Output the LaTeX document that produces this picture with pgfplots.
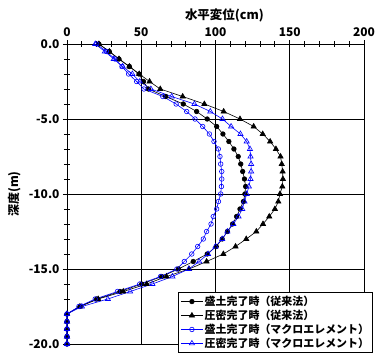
\documentclass[border=0pt]{standalone}
\usepackage{fontspec}
\setmainfont{Noto Sans CJK JP}
\usepackage{pgfplots}
\pgfplotsset{compat=1.18}
\pgfplotstableread{
x y
21.5 0
28.5 -0.5
35 -1.0
42 -1.5
48.5 -2.0
51.5 -2.5
54.8 -3.0
66.5 -3.5
78.3 -4.0
87.3 -4.5
94.4 -5.0
100.8 -5.5
105 -6.0
109 -6.5
112.4 -7.0
115.3 -7.5
117 -8.0
118.3 -8.5
119.5 -9.0
120.3 -9.5
119.8 -10.0
118.8 -10.5
116.5 -11.0
114.2 -11.5
111.5 -12.0
108 -12.5
104.5 -13.0
100.5 -13.5
94.4 -14.0
85 -14.5
75 -15.0
63.8 -15.5
50.3 -16.0
35.7 -16.5
20 -17.0
8.7 -17.5
0 -18.0
0 -18.5
0 -19.0
0 -19.5
0 -20.0
}\seriesA
\pgfplotstableread{
x y
21.5 0
28.5 -0.5
35 -1.0
42 -1.5
48.7 -2.0
55.6 -2.5
62.8 -3.0
77.9 -3.5
92.5 -4.0
105.5 -4.5
116.5 -5.0
125.7 -5.5
131.8 -6.0
136.8 -6.5
140.7 -7.0
143.8 -7.5
144.6 -8.0
145.2 -8.5
145.4 -9.0
145 -9.5
143.4 -10.0
142.3 -10.5
140 -11.0
136.2 -11.5
132 -12.0
127.5 -12.5
120.7 -13.0
113.5 -13.5
105.3 -14.0
94 -14.5
82.2 -15.0
67 -15.5
53.7 -16.0
37.9 -16.5
21 -17.0
8.7 -17.5
0 -18.0
0 -18.5
0 -19.0
0 -19.5
0 -20.0
}\seriesB
\pgfplotstableread{
x y
20 0
26.5 -0.5
32.3 -1.0
37 -1.5
41.5 -2.0
46.9 -2.5
51.8 -3.0
64.5 -3.5
73.5 -4.0
80.6 -4.5
86.2 -5.0
91.4 -5.5
95.9 -6.0
99 -6.5
101.9 -7.0
103 -7.5
103.5 -8.0
104.2 -8.5
104.2 -9.0
104 -9.5
103.5 -10.0
102 -10.5
100.8 -11.0
98.5 -11.5
97 -12.0
94 -12.5
91.8 -13.0
88 -13.5
84 -14.0
79 -14.5
74 -15.0
63 -15.5
49 -16.0
34 -16.5
19 -17.0
8 -17.5
0 -18.0
0 -18.5
0 -19.0
0 -19.5
0 -20.0
}\seriesC
\pgfplotstableread{
x y
19 0
25.5 -0.5
31.5 -1.0
37.5 -1.5
44 -2.0
49 -2.5
56.5 -3.0
70.5 -3.5
85.8 -4.0
96.5 -4.5
104.7 -5.0
110.5 -5.5
116.8 -6.0
121 -6.5
123.2 -7.0
123.6 -7.5
124 -8.0
124 -8.5
123.6 -9.0
122.5 -9.5
121 -10.0
119.5 -10.5
118 -11.0
115.5 -11.5
112 -12.0
108 -12.5
104.5 -13.0
100 -13.5
95 -14.0
89 -14.5
82 -15.0
71 -15.5
57.5 -16.0
42.5 -16.5
27.5 -17.0
10 -17.5
0 -18.0
0 -18.5
0 -19.0
0 -19.5
0 -20.0
}\seriesD
\begin{document}
\begin{tikzpicture}
\begin{axis}[
  scale only axis, width=297bp, height=300bp,
  xmin=0, xmax=200, ymin=-20, ymax=0,
  xtick={0,50,100,150,200}, minor x tick num=4,
  ytick={-20,-15,-10,-5,0}, minor y tick num=4,
  yticklabels={-20.0,-15.0,-10.0,-5.0,0.0},
  xtick pos=right, xticklabel pos=right,
  ytick pos=left,
  grid=major, major grid style={black, line width=0.8bp},
  axis line style={black, line width=0.8bp},
  tick style={black, line width=0.8bp},
  tick align=center, major tick length=8bp, minor tick length=6bp,
  /pgf/number format/assume math mode=true,
  tick label style={font=\fontsize{12}{12}\selectfont\bfseries},
  xlabel={水平変位(cm)},
  xlabel style={at={(rel axis cs:0.53,1.0967)}, anchor=center, font=\fontsize{12.5}{13}\selectfont\bfseries},
  ylabel={深度(m)},
  ylabel style={at={(rel axis cs:-0.178,0.5)}, anchor=center, font=\fontsize{12}{13}\selectfont\bfseries},
  clip=false,
  legend cell align=left,
  legend style={at={(rel axis cs:1.03,-0.029)}, anchor=south east, draw=black, line width=0.6bp, fill=white,
    font=\fontsize{11}{12}\selectfont\bfseries, row sep=0bp, inner sep=2bp,
    nodes={inner sep=1.5bp}},
  legend image code/.code={\draw[mark repeat=2,mark phase=2,#1] plot coordinates {(0bp,0bp) (11bp,0bp) (22bp,0bp)};},
]
\addplot[black, line width=0.6bp, mark=*, mark size=2.3bp, mark options={solid}] table[x=x,y=y] {\seriesA};
\addlegendentry{盛土完了時（従来法）}
\addplot[black, line width=0.6bp, mark=triangle*, mark size=3bp, mark options={solid}] table[x=x,y=y] {\seriesB};
\addlegendentry{圧密完了時（従来法）}
\addplot[blue, line width=0.6bp, mark=o, mark size=2.3bp, mark options={solid}] table[x=x,y=y] {\seriesC};
\addlegendentry{盛土完了時（マクロエレメント）}
\addplot[blue, line width=0.6bp, mark=triangle, mark size=3bp, mark options={solid}] table[x=x,y=y] {\seriesD};
\addlegendentry{圧密完了時（マクロエレメント）}
\coordinate (bbsw) at (rel axis cs:-0.2256,-0.0467);
\coordinate (bbne) at (rel axis cs:1.0539,1.1467);
\end{axis}
\pgfresetboundingbox
\path (bbsw) rectangle (bbne);
\end{tikzpicture}
\end{document}
